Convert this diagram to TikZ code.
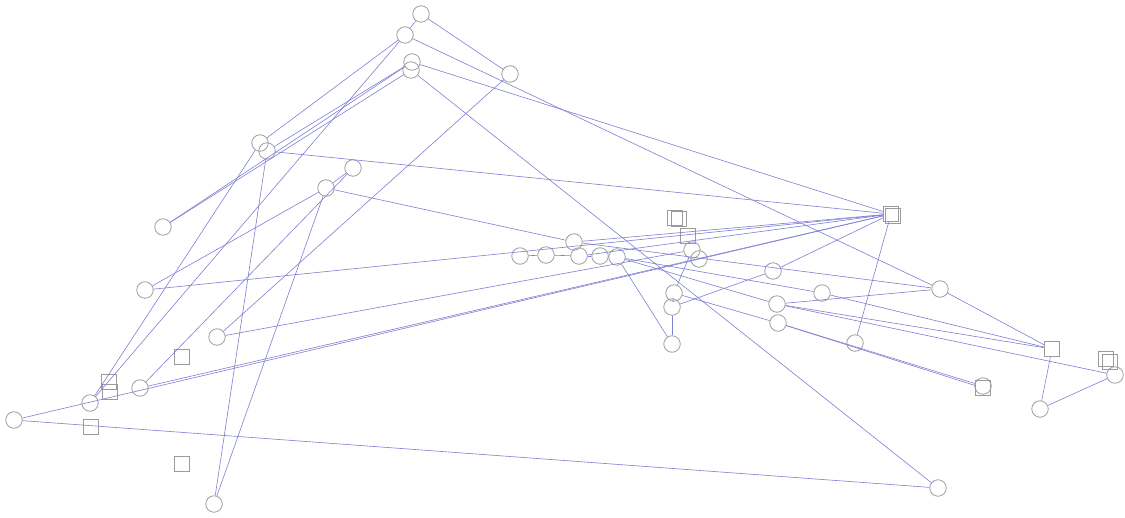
\documentclass[tikz,border=0pt]{standalone}
\usepackage{xcolor}
\usepackage{tikz}
\usetikzlibrary{positioning}

\definecolor{linkblue}{RGB}{128,128,212}
\definecolor{rimgray}{RGB}{155,155,155}

\begin{document}
\begin{tikzpicture}[
    x=0.02cm, y=-0.02cm,
    vertex/.style={circle, draw=rimgray, line width=0.45pt,
                   minimum size=0.33cm, inner sep=0pt},
    block/.style={rectangle, draw=rimgray, line width=0.45pt,
                  minimum size=0.31cm, inner sep=0pt},
    link/.style={linkblue, line width=0.35pt}
]
\useasboundingbox (0,0) rectangle (1125,517);
% circles
\node[vertex] (c1) at (421,14) {};
\node[vertex] (c2) at (405,35) {};
\node[vertex] (c3) at (412,62) {};
\node[vertex] (c4) at (411,70) {};
\node[vertex] (c5) at (510,74) {};
\node[vertex] (c6) at (260,143) {};
\node[vertex] (c7) at (267,151) {};
\node[vertex] (c8) at (353,168) {};
\node[vertex] (c9) at (326,188) {};
\node[vertex] (c10) at (163,227) {};
\node[vertex] (c11) at (145,290) {};
\node[vertex] (c12) at (217,337) {};
\node[vertex] (c13) at (140,388) {};
\node[vertex] (c14) at (90,403) {};
\node[vertex] (c15) at (14,420) {};
\node[vertex] (c16) at (214,504) {};
\node[vertex] (c17) at (520,256) {};
\node[vertex] (c18) at (546,255) {};
\node[vertex] (c19) at (574,242) {};
\node[vertex] (c20) at (579,256) {};
\node[vertex] (c21) at (600,256) {};
\node[vertex] (c22) at (617,257) {};
\node[vertex] (c23) at (692,250) {};
\node[vertex] (c24) at (699,259) {};
\node[vertex] (c25) at (674,293) {};
\node[vertex] (c26) at (672,307) {};
\node[vertex] (c27) at (672,344) {};
\node[vertex] (c28) at (773,271) {};
\node[vertex] (c29) at (822,293) {};
\node[vertex] (c30) at (940,289) {};
\node[vertex] (c31) at (777,304) {};
\node[vertex] (c32) at (778,323) {};
\node[vertex] (c33) at (855,343) {};
\node[vertex] (c35) at (1040,409) {};
\node[vertex] (c36) at (1115,375) {};
\node[vertex] (c37) at (938,488) {};
% squares
\node[block] (s1b) at (893,216) {};
\node[block] (s1) at (891,214) {};
\node[block] (s2b) at (679,219) {};
\node[block] (s2) at (675,218) {};
\node[block] (s3) at (688,236) {};
\node[block] (s4) at (182,357) {};
\node[block] (s5) at (109,382) {};
\node[block] (s6) at (110,392) {};
\node[block] (s7) at (91,427) {};
\node[block] (s8) at (182,464) {};
\node[block] (s9) at (1052,349) {};
\node[block] (s10b) at (1110,362) {};
\node[block] (s10) at (1106,359) {};
\node[block] (s11) at (983,388) {};
\node[vertex] (c34) at (983,386) {};
% links
\foreach \a/\b in {c1/c2, c1/c5, c2/c6, c2/c30, c2/c14, c3/s1, c3/c10,
                   c4/c10, c3/c7, c4/c37, c5/c12, c6/c14, c7/s1, c7/c16,
                   c9/c16, c8/c9, c9/c11, c9/c19, c13/c8, c11/s1, c12/c23,
                   c15/s1, c13/s1, c15/c37, c17/c18, c18/c20, c20/c21,
                   c21/c22, c19/s1, c20/s1, c19/c30, c22/c27, c25/c23,
                   c26/c27, c25/c26, c26/c28, c28/s1, c31/c30, c31/s9,
                   c32/c34, c32/s11, c33/s1, c30/s9, s9/c35, c35/c36,
                   c22/c31, c25/c32, c22/c29, c29/s9, c31/c36, c23/s3} {
    \draw[link] (\a) -- (\b);
}
\end{tikzpicture}
\end{document}
